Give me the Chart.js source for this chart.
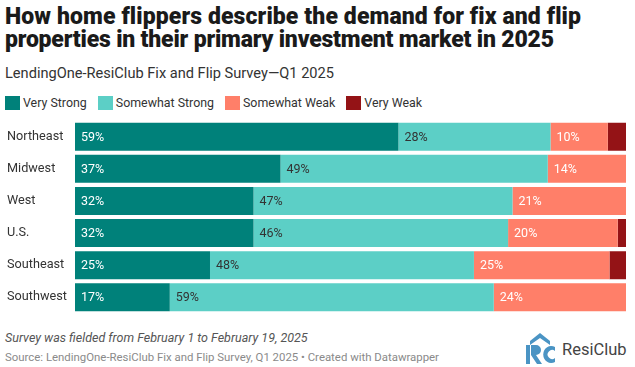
<!DOCTYPE html>
<html>
<head>
<meta charset="utf-8">
<script src="https://cdn.jsdelivr.net/npm/chart.js@4"></script>
<style>
  html, body { margin:0; padding:0; background:#fff; }
  body { width:635px; height:367px; position:relative; overflow:hidden; font-family: Roboto, "Open Sans", sans-serif; color:#222; }
  #title { position:absolute; left:5px; top:5px; width:630px; font-weight:900; font-size:23px; line-height:23.4px; color:#1a1a1a; white-space:nowrap; }
  #title .l1 { letter-spacing:0.1px; }
  #title .l2 { letter-spacing:-0.19px; }
  #subtitle { position:absolute; left:5px; top:64px; font-size:14.6px; font-weight:400; color:#333; white-space:nowrap; }
  #legend { position:absolute; left:5px; top:95px; font-size:12.4px; color:#333; display:flex; white-space:nowrap; }
  .li { display:flex; align-items:center; margin-right:11px; }
  .sw { width:15px; height:14px; margin-right:3px; }
  #chartwrap { position:absolute; left:0; top:113px; width:635px; height:208px; }
  #note { position:absolute; left:5px; top:330px; font-size:12.5px; font-style:italic; color:#555; white-space:nowrap; }
  #source { position:absolute; left:5px; top:350px; font-size:11.4px; color:#8a8a8a; white-space:nowrap; }
  #logo { position:absolute; left:526px; top:333px; }
  #logo .name { position:absolute; left:36px; top:7px; font-size:16.5px; color:#444; white-space:nowrap; }
</style>
</head>
<body>
<div id="title"><span class="l1">How home flippers describe the demand for fix and flip</span><br><span class="l2">properties in their primary investment market in 2025</span></div>
<div id="subtitle">LendingOne-ResiClub Fix and Flip Survey—Q1 2025</div>
<div id="legend"></div>
<div id="chartwrap"><canvas id="c"></canvas></div>
<div id="note">Survey was fielded from February 1 to February 19, 2025</div>
<div id="source">Source: LendingOne-ResiClub Fix and Flip Survey, Q1 2025 • Created with Datawrapper</div>
<div id="logo">
  <svg width="30" height="31" viewBox="0 0 30 31">
    <polygon points="4,8 14,0 24,8 24,12 14,5 4,12" fill="#4a94c4"/>
    <rect x="0" y="12" width="4" height="19" fill="#4a94c4"/>
    <path d="M5,12 h5 a5,5 0 0 1 0,10 l6,9 h-5 l-6,-9 z" fill="#4a94c4"/>
    <path d="M29,14 a8,8.5 0 1 0 0,15 v-4 a4.5,4.5 0 1 1 0,-7 z" fill="#4a94c4"/>
  </svg>
  <span class="name">ResiClub</span>
</div>
<script>
const categories = ["Northeast", "Midwest", "West", "U.S.", "Southeast", "Southwest"];
const seriesNames = ["Very Strong", "Somewhat Strong", "Somewhat Weak", "Very Weak"];
const veryStrong     = [58.7, 37.3, 32.4, 32.4, 24.5, 17.2];
const somewhatStrong = [27.6, 48.5, 47.0, 46.2, 47.9, 58.8];
const somewhatWeak   = [10.4, 14.2, 20.6, 19.9, 24.6, 24.0];
const veryWeak       = [3.3, 0, 0, 1.5, 3.0, 0];
const colors = ["#00817a", "#5ccfc6", "#ff7f69", "#941316"];
const labelColors = ["#ffffff", "#333333", "#ffffff", "#ffffff"];

const leg = document.getElementById('legend');
seriesNames.forEach((n, i) => {
  const d = document.createElement('div'); d.className = 'li';
  d.innerHTML = '<div class="sw" style="background:' + colors[i] + '"></div><span>' + n + '</span>';
  leg.appendChild(d);
});

const allSeries = [veryStrong, somewhatStrong, somewhatWeak, veryWeak];
const datasets = allSeries.map((vals, i) => ({
  label: seriesNames[i], data: vals, backgroundColor: colors[i],
  borderWidth: 0, barPercentage: 0.875, categoryPercentage: 1.0
}));

const labelPlugin = {
  id: 'segLabels',
  afterDatasetsDraw(chart) {
    const ctx = chart.ctx;
    ctx.save();
    ctx.font = '12.5px Roboto';
    ctx.textBaseline = 'middle';
    ctx.textAlign = 'left';
    chart.data.datasets.forEach((ds, di) => {
      if (di === 3) return;
      const meta = chart.getDatasetMeta(di);
      meta.data.forEach((bar, j) => {
        const v = ds.data[j];
        if (v < 5) return;
        const left = Math.min(bar.x, bar.base);
        ctx.fillStyle = labelColors[di];
        ctx.fillText(Math.round(v) + '%', left + 6, bar.y + 1);
      });
    });
    ctx.restore();
  }
};

new Chart(document.getElementById('c'), {
  type: 'bar',
  data: { labels: categories, datasets },
  options: {
    indexAxis: 'y', responsive: true, maintainAspectRatio: false, animation: false,
    layout: { padding: { left: 7, right: 9, top: 0, bottom: 0 } },
    plugins: { legend: { display: false }, tooltip: { enabled: false } },
    scales: {
      x: { stacked: true, min: 0, max: 100, display: false },
      y: {
        stacked: true,
        grid: { display: false },
        border: { display: false },
        ticks: { crossAlign: 'far', color: '#333', font: { family: 'Roboto', size: 12.7 }, padding: 0 },
        afterFit(scale) { scale.width = 68; }
      }
    }
  },
  plugins: [labelPlugin]
});
</script>
</body>
</html>
